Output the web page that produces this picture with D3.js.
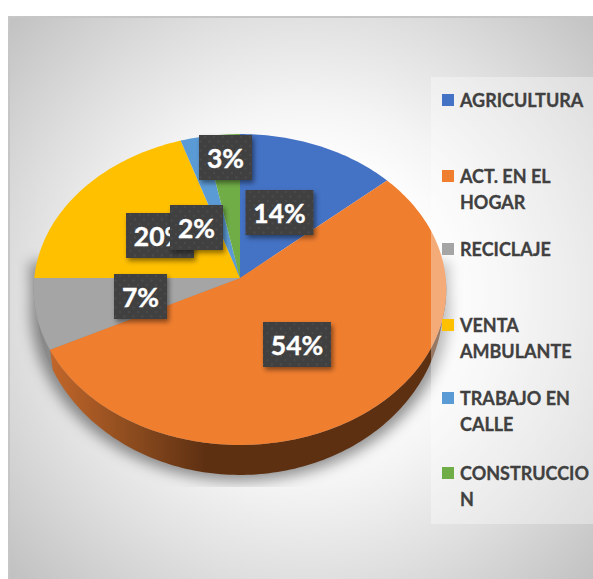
<!DOCTYPE html>
<html>
<head>
<meta charset="utf-8">
<script src="https://cdn.jsdelivr.net/npm/d3@7"></script>
<style>
  html, body { margin: 0; padding: 0; background: #fff; }
  svg { display: block; }
  text { font-family: Lato, "Open Sans", sans-serif; font-weight: 700; }
</style>
</head>
<body>
<div id="chart"></div>
<script>
// data
var categories = ["AGRICULTURA", "ACT. EN EL HOGAR", "RECICLAJE", "VENTA AMBULANTE", "TRABAJO EN CALLE", "CONSTRUCCION"];
var legendLines = [["AGRICULTURA"], ["ACT. EN EL", "HOGAR"], ["RECICLAJE"], ["VENTA", "AMBULANTE"], ["TRABAJO EN", "CALLE"], ["CONSTRUCCIO", "N"]];
var shares = [13.5, 54.1, 7.4, 20, 2, 3];
var colors = ["#4472c4", "#f07e2f", "#a5a5a5", "#ffc000", "#5b9bd5", "#70ad47"];

var svgWidth = 593;
var svgHeight = 579;

// perspective disc: the rim is a plain ellipse but the slices meet at an apex above its middle
var apex = { x: 240, y: 278 };
var tilt = { k: 0.0739, rx: 205.7, ry: 154.6 };
var topRim = { cx: 240, cy: 289.5, rx: 206, ry: 155.5 };
var bottomRim = { cx: 240, cy: 303, rx: 203, ry: 172 };

// where the data labels sit: drawn in this order, so 2% covers 20%
var labelCenter = [[279.5, 212.5], [297, 344.5], [140.5, 296.5], [160, 235.5], [196.5, 227.5], [225.5, 157.5]];
var labelOrder = [0, 1, 2, 3, 4, 5];
var legendRowY = [100, 176, 249, 325, 398, 473];

var color = d3.scaleOrdinal().domain(categories).range(colors);

var svg = d3.select("#chart")
  .append("svg")
  .attr("width", svgWidth)
  .attr("height", svgHeight);

var defs = svg.append("defs");

var bg = defs.append("radialGradient")
  .attr("id", "bgGrad")
  .attr("gradientUnits", "userSpaceOnUse")
  .attr("cx", 305).attr("cy", 295).attr("r", 420);
bg.append("stop").attr("offset", 0.3).attr("stop-color", "#ffffff");
bg.append("stop").attr("offset", 0.46).attr("stop-color", "#f4f4f4");
bg.append("stop").attr("offset", 0.67).attr("stop-color", "#e0e0e0");
bg.append("stop").attr("offset", 1).attr("stop-color", "#bebebe");

var wallGrad = defs.append("linearGradient")
  .attr("id", "wallGrad")
  .attr("gradientUnits", "userSpaceOnUse")
  .attr("x1", 50).attr("x2", 205).attr("y1", 0).attr("y2", 0);
wallGrad.append("stop").attr("offset", 0).attr("stop-color", "#c2662a");
wallGrad.append("stop").attr("offset", 0.5).attr("stop-color", "#8f4d1f");
wallGrad.append("stop").attr("offset", 1).attr("stop-color", "#5e3012");

defs.append("filter").attr("id", "blur")
  .attr("x", "-20%").attr("y", "-20%").attr("width", "140%").attr("height", "140%")
  .append("feGaussianBlur").attr("stdDeviation", 7);

var labelShadow = defs.append("filter").attr("id", "labelShadow")
  .attr("x", "-30%").attr("y", "-30%").attr("width", "170%").attr("height", "170%");
labelShadow.append("feDropShadow")
  .attr("dx", 2).attr("dy", 3).attr("stdDeviation", 2.5)
  .attr("flood-color", "#000").attr("flood-opacity", 0.45);

var dots = defs.append("pattern").attr("id", "dots")
  .attr("patternUnits", "userSpaceOnUse")
  .attr("width", 9).attr("height", 9);
dots.append("rect").attr("width", 9).attr("height", 9).attr("fill", "#3f3f3f");
dots.append("circle").attr("cx", 2).attr("cy", 2).attr("r", 0.9).attr("fill", "#525252");
dots.append("circle").attr("cx", 6.5).attr("cy", 6.5).attr("r", 0.9).attr("fill", "#525252");

defs.append("clipPath").attr("id", "plotClip")
  .append("rect").attr("x", 18).attr("y", 17).attr("width", 575).attr("height", 470);

// chart area
svg.append("rect")
  .attr("x", 8).attr("y", 16)
  .attr("width", svgWidth - 8).attr("height", svgHeight - 16)
  .attr("fill", "url(#bgGrad)");
svg.append("path")
  .attr("d", "M9,579V17H593")
  .attr("fill", "none")
  .attr("stroke", "#c6c6c6")
  .attr("stroke-width", 2);

// pie angle -> point on the top rim
function topPoint(angle) {
  var w = 1 + tilt.k * Math.cos(angle);
  return [
    apex.x + tilt.rx * Math.sin(angle) / w,
    apex.y - tilt.ry * Math.cos(angle) / w
  ];
}

// same spot on the lower rim of the wall
function bottomPoint(angle) {
  var p = topPoint(angle);
  return [
    bottomRim.cx + bottomRim.rx * (p[0] - topRim.cx) / topRim.rx,
    bottomRim.cy + bottomRim.ry * (p[1] - topRim.cy) / topRim.ry
  ];
}

function sampleAngles(a0, a1) {
  var n = Math.max(2, Math.ceil((a1 - a0) / 0.02));
  return d3.range(n + 1).map(function(i) { return a0 + (a1 - a0) * i / n; });
}

var line = d3.line();
var arcs = d3.pie().sort(null).value(function(d) { return d; })(shares);

// soft shadow under the pie
var silhouette = sampleAngles(Math.PI / 2, Math.PI * 1.5).map(bottomPoint);
svg.append("g")
  .attr("clip-path", "url(#plotClip)")
  .append("path")
  .attr("d", line([[30, 262], [448, 262]].concat(silhouette.map(function(p) {
    return [240 + (p[0] - 240) * 1.03, p[1] + 6];
  }))) + "Z")
  .attr("fill", "#000")
  .attr("fill-opacity", 0.42)
  .attr("filter", "url(#blur)");

// side wall, only the front half shows
var walls = svg.append("g");
arcs.forEach(function(d, i) {
  var a0 = Math.max(d.startAngle, Math.PI / 2);
  var a1 = Math.min(d.endAngle, Math.PI * 1.5);
  if (a1 <= a0) return;
  var angles = sampleAngles(a0, a1);
  var upper = angles.map(topPoint);
  var lower = angles.slice().reverse().map(bottomPoint);
  walls.append("path")
    .attr("d", line(upper.concat(lower)) + "Z")
    .attr("fill", i === 1 ? "url(#wallGrad)" : "#8a8a8a");
});

// top face
svg.append("g").selectAll("path")
  .data(arcs)
  .enter()
  .append("path")
  .attr("d", function(d) {
    var pts = sampleAngles(d.startAngle, d.endAngle).map(topPoint);
    return line([[apex.x, apex.y]].concat(pts)) + "Z";
  })
  .attr("fill", function(d, i) { return color(categories[i]); });

// legend box is see-through and lies over the pie
svg.append("rect")
  .attr("x", 431).attr("y", 77)
  .attr("width", svgWidth - 431).attr("height", 447)
  .attr("fill", "#fff")
  .attr("fill-opacity", 0.35);

var legend = svg.append("g").selectAll("g")
  .data(categories)
  .enter()
  .append("g")
  .attr("transform", function(d, i) { return "translate(442," + legendRowY[i] + ")"; });

legend.append("rect")
  .attr("x", 0).attr("y", -6)
  .attr("width", 12).attr("height", 12)
  .attr("fill", function(d) { return color(d); });

legend.each(function(d, i) {
  var t = d3.select(this).append("text")
    .attr("x", 18)
    .attr("y", 7)
    .attr("font-size", 18)
    .attr("fill", "#404040")
    .attr("stroke", "#404040")
    .attr("stroke-width", 0.3);
  legendLines[i].forEach(function(s, j) {
    t.append("tspan").attr("x", 18).attr("dy", j ? 25.5 : 0).text(s);
  });
});

// data labels
var labels = svg.append("g").selectAll("g")
  .data(labelOrder)
  .enter()
  .append("g")
  .attr("transform", function(i) { return "translate(" + labelCenter[i][0] + "," + labelCenter[i][1] + ")"; });

labels.append("rect")
  .attr("x", function(i) { return shares[i] >= 9.5 ? -34 : -26.5; })
  .attr("y", -22.5)
  .attr("width", function(i) { return shares[i] >= 9.5 ? 68 : 53; })
  .attr("height", 45)
  .attr("fill", "url(#dots)")
  .attr("filter", "url(#labelShadow)");

labels.append("text")
  .attr("text-anchor", "middle")
  .attr("y", 10)
  .attr("font-size", 26.5)
  .attr("fill", "#fff")
  .attr("stroke", "#fff")
  .attr("stroke-width", 0.4)
  .text(function(i) { return Math.round(shares[i]) + "%"; });
</script>
</body>
</html>
